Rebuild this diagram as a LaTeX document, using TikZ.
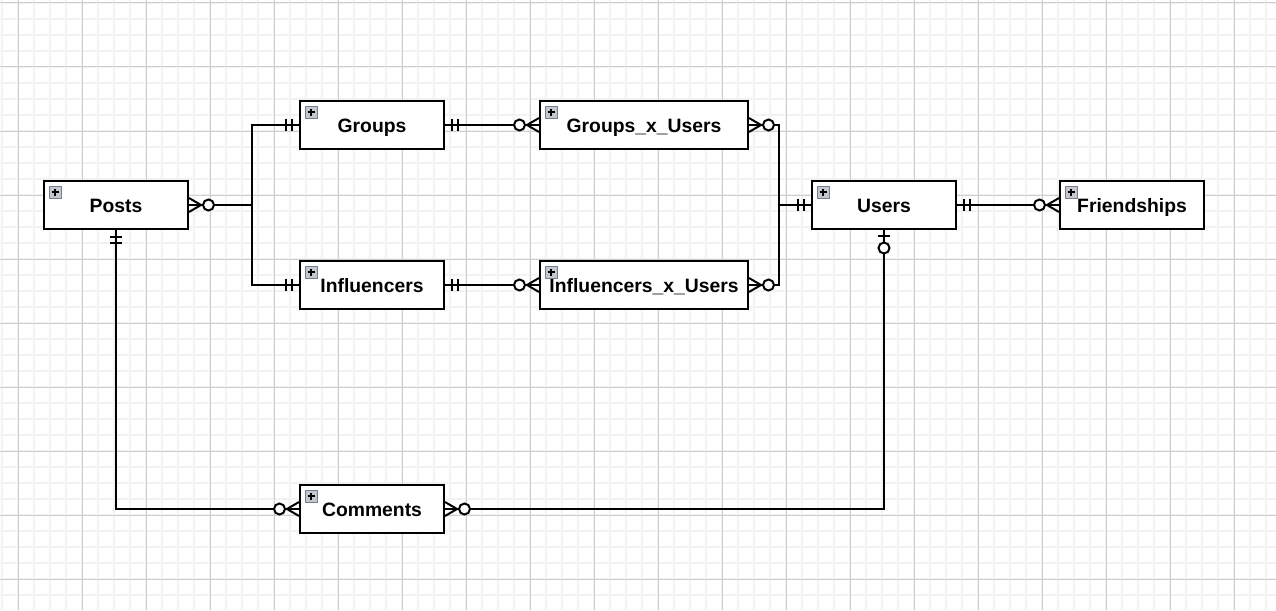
\documentclass[tikz,border=0pt]{standalone}
\usepackage{fontspec}
\setmainfont{Liberation Sans}
\usepackage{tikz}
\definecolor{gridminor}{RGB}{242,242,242}
\definecolor{gridmajor}{RGB}{205,205,205}
\definecolor{iconfill}{RGB}{196,199,207}
\definecolor{iconline}{RGB}{120,125,135}
\tikzset{every picture/.style={line width=0.75pt}}
\tikzset{
  entity/.style={draw, fill=white, line width=1.5pt, minimum height=36pt, minimum width=108pt, inner sep=0pt, text height=13pt, text depth=2.5pt, font=\bfseries\fontsize{14.5}{17}\selectfont},
  wide/.style={minimum width=156pt},
  rel/.style={line width=1.5pt},
  zeromany/.pic={\draw[rel] (0,-7) -- (12,0) (0,7) -- (12,0); \draw[rel, fill=white] (19.5,0) circle (5.5);},
  onemand/.pic={\draw[rel] (7,-6) -- (7,6) (13,-6) -- (13,6);},
  zeroone/.pic={\draw[rel] (6,-6) -- (6,6); \draw[rel, fill=white] (18,0) circle (5.5);},
}
\newcommand{\erplus}[1]{%
  \draw[iconline, fill=iconfill, line width=0.7pt] ([shift={(6.5,6.5)}]#1.north west) rectangle ++(11.5,11.5);
  \draw[line width=1.6pt] ([shift={(12.25,8.5)}]#1.north west) -- ++(0,7.5) ([shift={(8.5,12.25)}]#1.north west) -- ++(7.5,0);}

\begin{document}
\begin{tikzpicture}[x=0.75pt,y=0.75pt,yscale=-1,xscale=1]
\useasboundingbox (0,0) rectangle (1276,610);
\fill[white] (0,0) rectangle (1276,610);

% grid
\foreach \gx in {2,18,...,1276} \draw[gridminor, line width=1pt] (\gx,0) -- (\gx,610);
\foreach \gy in {3,19,...,610} \draw[gridminor, line width=1pt] (0,\gy) -- (1276,\gy);
\foreach \gx in {18,82,...,1276} \draw[gridmajor] (\gx,0) -- (\gx,610);
\foreach \gy in {3,67,...,610} \draw[gridmajor] (0,\gy) -- (1276,\gy);

% entities
\node[entity] (Posts) at (116,205) {Posts};
\node[entity] (Groups) at (372,125) {Groups};
\node[entity, wide] (GxU) at (644,125) {Groups\_x\_Users};
\node[entity] (Influencers) at (372,285) {Influencers};
\node[entity, wide] (IxU) at (644,285) {Influencers\_x\_Users};
\node[entity] (Users) at (884,205) {Users};
\node[entity] (Friendships) at (1132,205) {Friendships};
\node[entity] (Comments) at (372,509) {Comments};

% junctions
\coordinate (pj) at (252,205);
\coordinate (uj) at (779,205);

% relations
\draw[rel] (Posts.east) -- (pj);
\draw[rel] (Groups.west) -| (pj) |- (Influencers.west);
\draw[rel] (Groups.east) -- (GxU.west);
\draw[rel] (Influencers.east) -- (IxU.west);
\draw[rel] (Users.west) -- (uj);
\draw[rel] (GxU.east) -| (uj) |- (IxU.east);
\draw[rel] (Users.east) -- (Friendships.west);
\draw[rel] (Users.south) |- (Comments.east);
\draw[rel] (Posts.south) |- (Comments.west);

% relation ends
\pic at (Posts.east) {zeromany};
\pic[rotate=-90] at (Posts.south) {onemand};
\pic[rotate=180] at (Groups.west) {onemand};
\pic[rotate=180] at (Influencers.west) {onemand};
\pic at (Groups.east) {onemand};
\pic at (Influencers.east) {onemand};
\pic[rotate=180] at (GxU.west) {zeromany};
\pic[rotate=180] at (IxU.west) {zeromany};
\pic at (GxU.east) {zeromany};
\pic at (IxU.east) {zeromany};
\pic[rotate=180] at (Users.west) {onemand};
\pic at (Users.east) {onemand};
\pic[rotate=180] at (Friendships.west) {zeromany};
\pic[rotate=-90] at (Users.south) {zeroone};
\pic at (Comments.east) {zeromany};
\pic[rotate=180] at (Comments.west) {zeromany};

% icons
\erplus{Posts}
\erplus{Groups}
\erplus{GxU}
\erplus{Influencers}
\erplus{IxU}
\erplus{Users}
\erplus{Friendships}
\erplus{Comments}

\end{tikzpicture}
\end{document}
